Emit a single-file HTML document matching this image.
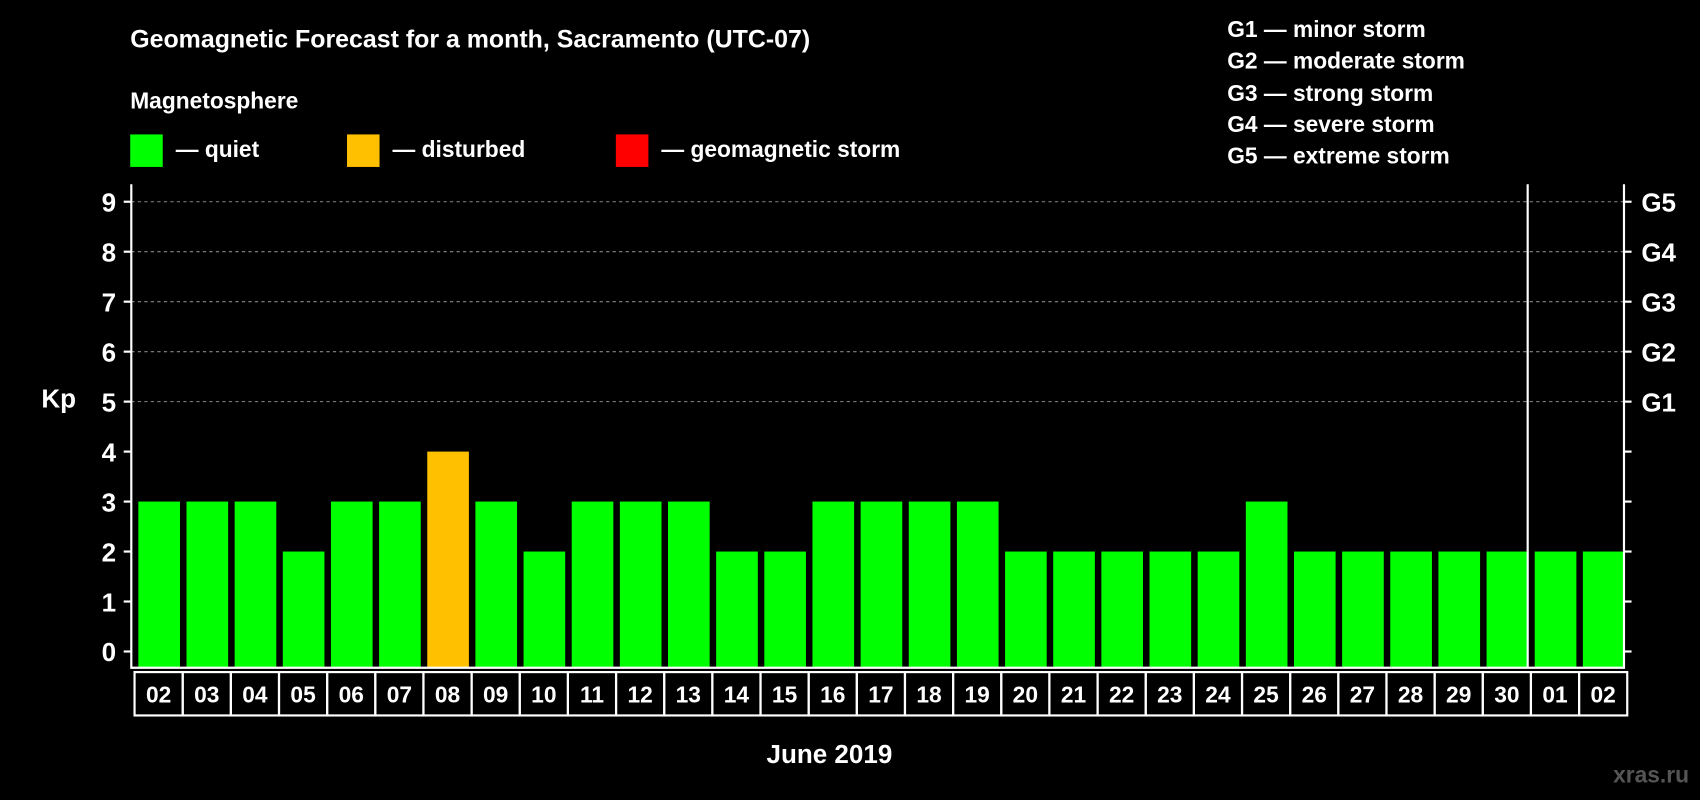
<!DOCTYPE html>
<html><head><meta charset="utf-8"><style>
html,body{margin:0;padding:0;background:#000;width:1700px;height:800px;overflow:hidden}
svg{display:block;font-family:"Liberation Sans",Arial,sans-serif;font-weight:bold}
</style></head><body>
<svg id="chart" width="1700" height="800" viewBox="0 0 1568 738" xmlns="http://www.w3.org/2000/svg">
<rect width="1568" height="738" fill="#000"/>
<text x="120" y="44" fill="#fff" font-size="23">Geomagnetic Forecast for a month, Sacramento (UTC-07)</text>
<text x="120" y="100" fill="#fff" font-size="21">Magnetosphere</text>
<rect x="120" y="124" width="30" height="30" fill="#00ff00"/>
<text x="162" y="145" fill="#fff" font-size="21">— quiet</text>
<rect x="320" y="124" width="30" height="30" fill="#ffc000"/>
<text x="362" y="145" fill="#fff" font-size="21">— disturbed</text>
<rect x="568" y="124" width="30" height="30" fill="#ff0000"/>
<text x="610" y="145" fill="#fff" font-size="21">— geomagnetic storm</text>
<g fill="#fff" font-size="21">
<text x="1132" y="34">G1 — minor storm</text>
<text x="1132" y="63">G2 — moderate storm</text>
<text x="1132" y="93">G3 — strong storm</text>
<text x="1132" y="122">G4 — severe storm</text>
<text x="1132" y="151">G5 — extreme storm</text>
</g>
<text x="38" y="376" fill="#fff" font-size="24">Kp</text>
<text x="765" y="704" fill="#fff" font-size="24" text-anchor="middle">June 2019</text>
<text x="1558" y="722" fill="#555" font-size="21" text-anchor="end">xras.ru</text>
<g id="grid"></g><g id="bars"></g><g id="axes"></g><g id="xlabels"></g>
</svg>
<script>
const days = ["02","03","04","05","06","07","08","09","10","11","12","13","14","15","16","17","18","19","20","21","22","23","24","25","26","27","28","29","30","01","02"];
const kp = [3,3,3,2,3,3,4,3,2,3,3,3,2,2,3,3,3,3,2,2,2,2,2,3,2,2,2,2,2,2,2];
const yTicks = [0,1,2,3,4,5,6,7,8,9];
const gLevels = [5,6,7,8,9];
const gLabels = ["G1","G2","G3","G4","G5"];
const monthBreakIndex = 29;
const NS="http://www.w3.org/2000/svg";
const L=121,R=1498,T=170,B=616;
const cw=(R-L)/days.length;
const y=v=>601-v*46.1;
const x=i=>L+i*cw;
function mk(t,a,p){const e=document.createElementNS(NS,t);for(const k in a)e.setAttribute(k,a[k]);p.appendChild(e);return e;}
const grid=document.getElementById('grid'),bars=document.getElementById('bars'),axes=document.getElementById('axes'),xl=document.getElementById('xlabels');
gLevels.forEach((g,i)=>{
 const ln=mk('line',{x1:L,x2:R,y1:y(g),y2:y(g),stroke:'#888','stroke-dasharray':'3,3','stroke-width':1},grid);
 
 
 const t=mk('text',{x:R+16,y:y(g)+9,fill:'#fff','font-size':24},axes);t.textContent=gLabels[i];
 
 
});
kp.forEach((v,i)=>{
 const c=v>=5?'#ff0000':(v>=4?'#ffc000':'#00ff00');
 const r=mk('rect',{x:x(i)+6.5,y:y(v),width:cw-6,height:B-y(v),fill:c},bars);
 
 
});
mk('line',{x1:L,x2:L,y1:T,y2:B+1,stroke:'#fff','stroke-width':2},axes);
mk('line',{x1:R,x2:R,y1:T,y2:B+1,stroke:'#fff','stroke-width':2},axes);
mk('line',{x1:L,x2:R,y1:B,y2:B,stroke:'#fff','stroke-width':2},axes);
const sep=mk('line',{x1:x(monthBreakIndex),x2:x(monthBreakIndex),y1:T,y2:B,stroke:'#fff','stroke-width':2},axes);


yTicks.forEach(v=>{
 mk('line',{x1:L-7,x2:L,y1:y(v),y2:y(v),stroke:'#fff','stroke-width':2},axes);
 mk('line',{x1:R,x2:R+7,y1:y(v),y2:y(v),stroke:'#fff','stroke-width':2},axes);
 const t=mk('text',{x:L-14,y:y(v)+9,fill:'#fff','font-size':24,'text-anchor':'end'},axes);t.textContent=v;
 
 
});
days.forEach((d,i)=>{
 const r=mk('rect',{x:x(i)+3,y:620,width:cw,height:40,fill:'none',stroke:'#fff','stroke-width':2},xl);
 
 
 const t=mk('text',{x:x(i)+3+cw/2,y:648,fill:'#fff','font-size':21,'text-anchor':'middle'},xl);t.textContent=d;
 
 
});
</script>
</body></html>
